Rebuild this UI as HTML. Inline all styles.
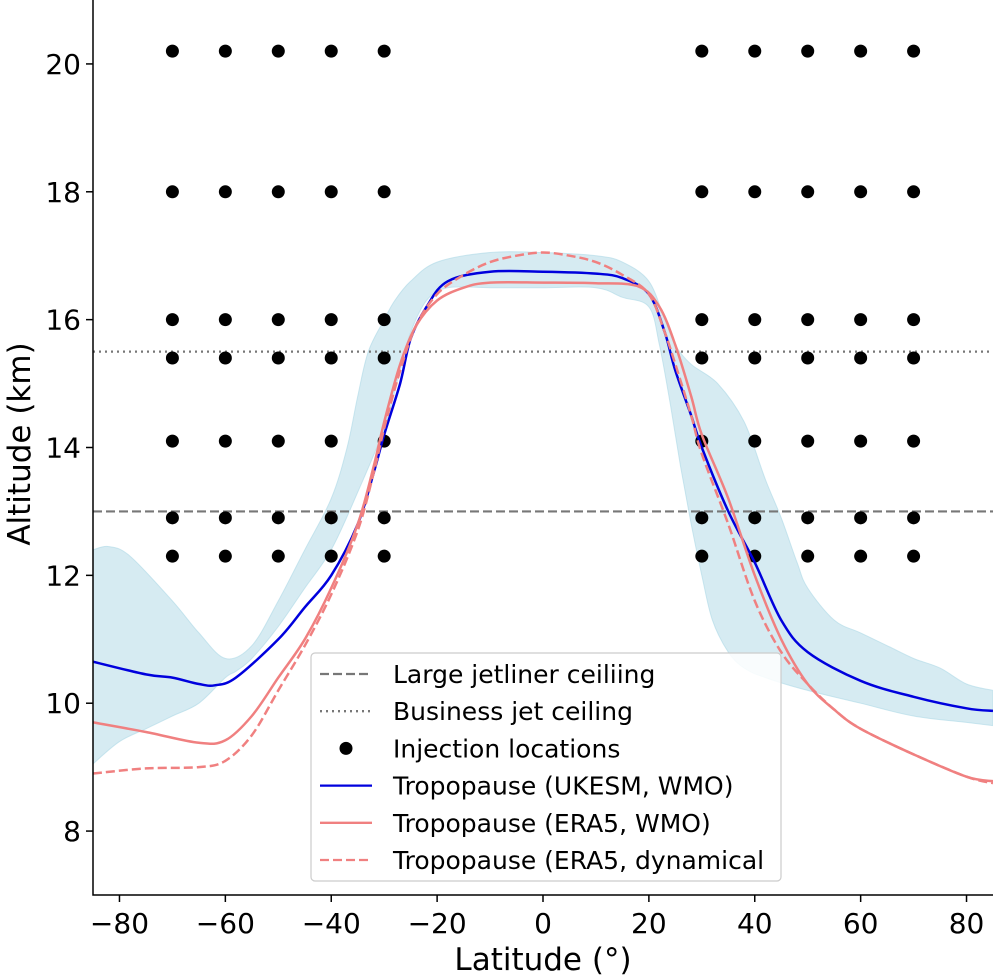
<!DOCTYPE html>
<html><head><meta charset="utf-8"><style>
body{margin:0;background:#fff}
svg{display:block;font-family:"DejaVu Sans","Liberation Sans",sans-serif}
</style></head><body>
<svg id="chart" width="1000" height="977"></svg>
<script>
const dotLats=[-70,-60,-50,-40,-30,30,40,50,60,70];
const dotAlts=[20.2,18,16,15.4,14.1,12.9,12.3];
const jetCeiling=13, bizCeiling=15.5;
const ukLat=[-85,-75,-70,-65,-62,-58,-50,-45,-40,-35,-32,-30,-27,-25,-22,-18,-10,0,10,15,20,23,25,28,30,35,40,45,50,60,70,80,85];
const ukAlt=[10.65,10.45,10.4,10.3,10.28,10.4,11,11.5,12,12.8,13.6,14.2,15,15.7,16.2,16.6,16.75,16.75,16.72,16.65,16.4,15.8,15.2,14.5,14,13,12.2,11.3,10.8,10.35,10.1,9.92,9.88];
const eraLat=[-85,-75,-65,-60,-55,-50,-45,-40,-35,-32,-30,-27,-24,-20,-15,-10,0,10,18,22,25,28,30,35,40,45,50,55,60,70,80,85];
const eraAlt=[9.7,9.55,9.38,9.42,9.8,10.4,11.0,11.8,12.8,13.7,14.4,15.3,15.9,16.3,16.5,16.58,16.58,16.57,16.52,16.2,15.6,14.8,14.2,13.2,12.0,11.0,10.3,9.9,9.6,9.2,8.85,8.78];
const dynLat=[-85,-75,-65,-60,-55,-50,-45,-40,-35,-32,-30,-27,-24,-20,-15,-10,-5,0,5,10,15,20,23,25,28,30,35,40,45,50,55,60,70,80,85];
const dynAlt=[8.9,8.98,9.0,9.1,9.5,10.2,10.9,11.7,12.7,13.6,14.3,15.2,15.9,16.4,16.7,16.9,17.0,17.05,17.0,16.9,16.7,16.4,15.8,15.3,14.5,13.9,12.8,11.6,10.8,10.3,9.9,9.6,9.2,8.85,8.75];
const upLat=[-85,-82,-78,-70,-65,-60,-55,-50,-45,-40,-37,-35,-33,-30,-28,-25,-20,-10,0,10,15,20,23,25,28,33,38,42,45,48,50,55,60,65,70,75,80,85];
const upAlt=[12.4,12.45,12.3,11.6,11.1,10.7,10.9,11.6,12.4,13.2,14,14.8,15.5,16.0,16.3,16.6,16.9,17.05,17.05,17.0,16.9,16.6,16.0,15.6,15.3,15.0,14.4,13.5,12.9,12.2,11.8,11.3,11.1,10.9,10.7,10.55,10.3,10.2];
const loLat=[-85,-80,-75,-70,-65,-60,-58,-55,-50,-45,-40,-35,-30,-27,-25,-22,-18,-10,0,10,15,20,22,24,26,28,30,32,35,38,42,50,60,70,80,85];
const loAlt=[9.05,9.4,9.6,9.8,10.0,10.4,10.5,10.7,11.2,11.8,12.4,13.3,14.3,15.2,15.8,16.3,16.5,16.5,16.5,16.5,16.35,16.2,15.6,14.7,13.7,12.8,12.0,11.3,10.8,10.55,10.4,10.2,10.0,9.8,9.7,9.65];
const xTicks=[-80,-60,-40,-20,0,20,40,60,80];
const yTicks=[8,10,12,14,16,18,20];

const L=93,R=993,T=0,B=895;
const X=v=>L+(v+85)/170*(R-L);
const Y=v=>B-(v-7)/14*(B-T);
const NS='http://www.w3.org/2000/svg';
const svg=document.getElementById('chart');
function mk(tag,at,parent){const e=document.createElementNS(NS,tag);for(const k in at)e.setAttribute(k,at[k]);(parent||svg).appendChild(e);return e;}
function smooth(pts){let d='M'+pts[0][0].toFixed(1)+','+pts[0][1].toFixed(1);
 for(let i=0;i<pts.length-1;i++){const p0=pts[Math.max(i-1,0)],p1=pts[i],p2=pts[i+1],p3=pts[Math.min(i+2,pts.length-1)];
 const c1=[p1[0]+(p2[0]-p0[0])/6,p1[1]+(p2[1]-p0[1])/6],c2=[p2[0]-(p3[0]-p1[0])/6,p2[1]-(p3[1]-p1[1])/6];
 d+=' C'+c1[0].toFixed(1)+','+c1[1].toFixed(1)+' '+c2[0].toFixed(1)+','+c2[1].toFixed(1)+' '+p2[0].toFixed(1)+','+p2[1].toFixed(1);}
 return d;}
const pts=(a,b)=>a.map((v,i)=>[X(v),Y(b[i])]);

const clip=mk('clipPath',{id:'pc'});mk('rect',{x:L,y:T,width:R-L,height:B-T},clip);
const g=mk('g',{'clip-path':'url(#pc)'});
const up=pts(upLat,upAlt), lo=pts(loLat,loAlt).reverse();
const band=mk('path',{d:smooth(up)+' L'+smooth(lo).slice(1)+' Z',fill:'#add8e6','fill-opacity':0.5,stroke:'#add8e6','stroke-opacity':0.6},g);


const jl=mk('line',{x1:L,x2:R,y1:Y(jetCeiling),y2:Y(jetCeiling),stroke:'#777','stroke-width':2.2,'stroke-dasharray':'9,4'},g);


const bl=mk('line',{x1:L,x2:R,y1:Y(bizCeiling),y2:Y(bizCeiling),stroke:'#777','stroke-width':2.2,'stroke-dasharray':'2,4'},g);


dotLats.forEach(a=>dotAlts.forEach(b=>{const c=mk('circle',{cx:X(a),cy:Y(b),r:6.5,fill:'#000'},g);

}));
const c1=mk('path',{d:smooth(pts(ukLat,ukAlt)),fill:'none',stroke:'#0000dd','stroke-width':2.5},g);


const c2=mk('path',{d:smooth(pts(eraLat,eraAlt)),fill:'none',stroke:'#f08080','stroke-width':2.5},g);


const c3=mk('path',{d:smooth(pts(dynLat,dynAlt)),fill:'none',stroke:'#f08080','stroke-width':2.5,'stroke-dasharray':'9,4'},g);


const ax=mk('path',{d:`M${L},${T} V${B} H${R}`,fill:'none',stroke:'#000','stroke-width':1.5});


xTicks.forEach(t=>{const x=X(t);mk('line',{x1:x,x2:x,y1:B,y2:B+7,stroke:'#000','stroke-width':1.5});
const tx=mk('text',{x:x,y:B+38,'text-anchor':'middle','font-size':28});tx.textContent=t<0?'\u2212'+(-t):t;

});
yTicks.forEach(t=>{const y=Y(t);mk('line',{x1:L-7,x2:L,y1:y,y2:y,stroke:'#000','stroke-width':1.5});
const tx=mk('text',{x:L-12,y:y+10,'text-anchor':'end','font-size':28});tx.textContent=t;

});
const xl=mk('text',{x:543,y:970,'text-anchor':'middle','font-size':31});xl.textContent='Latitude (°)';


const yl=mk('text',{x:0,y:0,'text-anchor':'middle','font-size':31,transform:'translate(30,444) rotate(-90)'});yl.textContent='Altitude (km)';


const lg=mk('g',{});


mk('rect',{x:311,y:653,width:470,height:228,rx:4,fill:'#fff','fill-opacity':0.85,stroke:'#ccc','stroke-width':1.2},lg);
const items=[['Large jetliner ceiliing','dash'],['Business jet ceiling','dot'],['Injection locations','marker'],['Tropopause (UKESM, WMO)','blue'],['Tropopause (ERA5, WMO)','red'],['Tropopause (ERA5, dynamical','reddash']];
items.forEach((it,i)=>{const y=674+i*37.2;
 if(it[1]==='marker')mk('circle',{cx:346,cy:y,r:6.5,fill:'#000'},lg);
 else{const st={dash:['#777','9,4'],dot:['#777','2,4'],blue:['#0000dd',''],red:['#f08080',''],reddash:['#f08080','9,4']}[it[1]];
 mk('line',{x1:320,x2:372,y1:y,y2:y,stroke:st[0],'stroke-width':2.3,'stroke-dasharray':st[1]||'none'},lg);}
 const t=mk('text',{x:393,y:y+9,'font-size':25},lg);t.textContent=it[0];
 
 });
</script>
</body></html>
